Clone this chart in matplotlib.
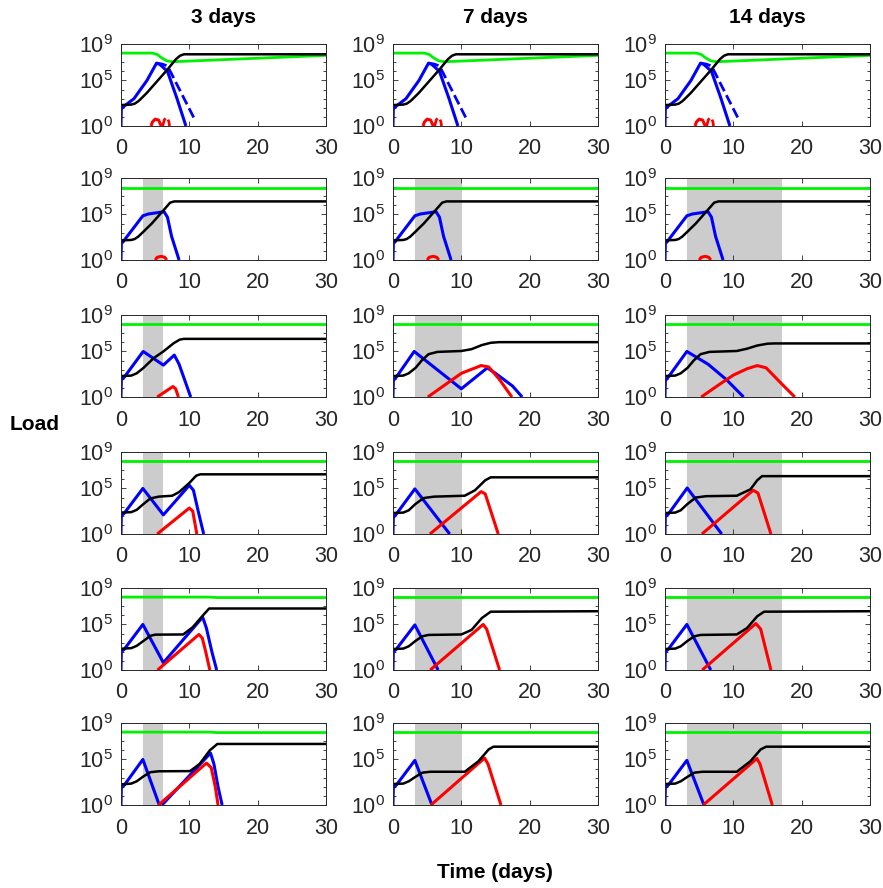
import numpy as np
import matplotlib
matplotlib.use("Agg")
import matplotlib.pyplot as plt
from matplotlib.ticker import FixedLocator, NullFormatter

plt.rcParams['font.family'] = ['Liberation Sans', 'DejaVu Sans']
plt.rcParams['mathtext.fontset'] = 'custom'
plt.rcParams['mathtext.rm'] = 'Liberation Sans'

col_titles = ['3 days', '7 days', '14 days']
treat_days = [3, 7, 14]
treat_start = 3.15

# curves are (time in days, log10 load); None breaks a line
# row 1 and row 2 are the same in every column
r1_green = [(0, 8.0), (4.6, 8.0), (5.3, 7.85), (6.0, 7.45), (6.7, 7.15), (7.5, 7.05), (30, 7.75)]
r1_black = [(0, 2.3), (1.5, 2.35), (2.0, 2.45), (2.5, 2.7), (3.0, 3.05), (3.8, 3.65), (6.8, 6.2),
            (8.0, 7.3), (8.6, 7.7), (9.2, 7.87), (30, 7.87)]
r1_blue = [(0, 0), (0.05, 1.9), (0.5, 2.2), (1.9, 3.0), (3.8, 5.0), (5.2, 6.9),
           (5.7, 6.75), (6.8, 6.0), (8.2, 3.0), (9.5, 0)]
r1_blue_dash = [(5.2, 6.9), (6.0, 6.8), (6.8, 6.6), (10.8, 0.7)]
r1_red = [(4.4, 0), (4.6, 0.45), (5.0, 0.75), (5.5, 0.65), (5.9, 0)]
r1_red_dash = [(6.1, 0), (6.35, 0.7), (6.7, 0.95), (7.0, 0.5), (7.1, 0)]

r2_green = [(0, 7.95), (30, 7.95)]
r2_black = [(0, 2.15), (1.5, 2.2), (2.0, 2.3), (2.5, 2.55), (3.0, 2.9), (4.5, 4.0), (6.5, 5.7),
            (7.2, 6.3), (7.8, 6.43), (30, 6.43)]
r2_blue = [(0, 0), (0.05, 1.8), (0.5, 2.2), (3.2, 4.85), (4.0, 5.05), (6.3, 5.3),
           (6.8, 4.7), (7.4, 2.6), (8.5, 0)]
r2_red = [(5.0, 0), (5.3, 0.3), (5.9, 0.4), (6.4, 0.3), (6.7, 0)]

flat_green = [(0, 8.0), (30, 8.0)]

row3_black = [
    [(0, 2.3), (1.5, 2.35), (2.3, 2.6), (3.3, 3.2), (4.75, 4.25), (6.2, 5.0), (7.7, 5.9),
     (8.6, 6.3), (9.2, 6.38), (30, 6.38)],
    [(0, 2.3), (1.5, 2.35), (2.3, 2.6), (3.3, 3.2), (4.2, 4.0), (5.2, 4.7), (6.5, 4.95),
     (10, 5.05), (11.5, 5.25), (13, 5.7), (14.3, 5.95), (15.5, 6.02), (30, 6.02)],
    [(0, 2.3), (1.5, 2.35), (2.3, 2.6), (3.3, 3.2), (4.2, 4.0), (5.2, 4.7), (6.5, 4.95),
     (10.5, 5.05), (12, 5.3), (13.5, 5.65), (15, 5.85), (16, 5.88), (30, 5.88)],
]
row3_blue = [
    [(0, 0), (0.05, 1.9), (0.5, 2.2), (3.25, 5.0), (6.2, 3.5), (7.8, 4.6), (8.5, 3.6), (10.2, 0)],
    [(0, 0), (0.05, 1.8), (0.5, 2.2), (3.1, 5.0), (10.0, 0.9), (13.8, 3.2), (15, 2.6),
     (17.5, 1.2), (18.9, 0)],
    [(0, 0), (0.05, 1.8), (0.5, 2.2), (3.2, 5.0), (6.3, 3.6), (9.0, 1.9), (11.5, 0)],
]
row3_red = [
    [(5.3, 0), (7.6, 1.15), (8.0, 0.9), (8.4, 0)],
    [(5.1, 0), (10, 2.6), (12.9, 3.45), (14.0, 3.3), (15.5, 2.0), (17.4, 0)],
    [(5.3, 0), (8, 1.4), (10, 2.4), (12, 3.1), (13.5, 3.45), (14.8, 3.2), (17, 1.5), (19, 0)],
]

row4_black = [
    [(0, 2.35), (1.5, 2.4), (2.3, 2.65), (3.3, 3.3), (4.3, 3.9), (5.5, 4.1), (7.5, 4.2),
     (8.5, 4.6), (10, 5.6), (11, 6.4), (11.6, 6.55), (30, 6.55)],
    [(0, 2.3), (1.5, 2.35), (2.3, 2.6), (3.3, 3.3), (4.5, 3.95), (6, 4.1), (10.5, 4.2),
     (12, 4.8), (13.5, 5.9), (14.3, 6.22), (30, 6.22)],
    [(0, 2.3), (1.5, 2.35), (2.3, 2.6), (3.3, 3.3), (4.5, 4.0), (6, 4.15), (10.5, 4.2),
     (12.5, 4.9), (13.5, 5.9), (14.2, 6.35), (30, 6.35)],
]
row4_blue = [
    [(0, 0), (0.05, 2.0), (0.5, 2.3), (3.2, 5.0), (6.2, 2.1), (10.0, 5.35), (10.6, 4.8),
     (11.3, 2.5), (12.1, 0)],
    [(0, 0), (0.05, 1.8), (0.5, 2.2), (3.2, 4.95), (8.3, 0)],
    [(0, 0), (0.05, 1.9), (0.5, 2.2), (3.25, 5.05), (8.3, 0)],
]
row4_red = [
    [(5.3, 0), (10.0, 2.85), (10.5, 2.5), (11.1, 0)],
    [(5.4, 0), (12.9, 4.65), (13.5, 4.4), (15.4, 0)],
    [(5.4, 0), (12.9, 4.8), (13.6, 4.5), (15.5, 0)],
]

row5_black = [
    [(0, 2.33), (1.5, 2.4), (2.3, 2.65), (3.3, 3.2), (4.3, 3.75), (5, 3.88), (9.1, 3.9),
     (10.5, 4.7), (12, 6.0), (12.9, 6.75), (30, 6.75)],
    [(0, 2.3), (1.5, 2.35), (2.3, 2.6), (3.3, 3.2), (4.3, 3.7), (5.2, 3.85), (10, 3.9),
     (11.5, 4.4), (13, 5.7), (14.3, 6.4), (30, 6.45)],
    [(0, 2.3), (1.5, 2.35), (2.3, 2.6), (3.3, 3.2), (4.3, 3.7), (5.2, 3.85), (10.5, 3.9),
     (12, 4.6), (13.5, 5.9), (14.5, 6.4), (30, 6.45)],
]
row5_blue = [
    [(0, 0), (0.05, 2.0), (0.5, 2.3), (3.2, 5.0), (6.2, 0.8), (11.95, 5.8), (12.5, 4.6),
     (13.3, 2.0), (14.0, 0)],
    [(0, 0), (0.05, 2.0), (0.5, 2.3), (3.2, 4.95), (6.6, 0)],
    [(0, 0), (0.05, 2.0), (0.5, 2.3), (3.2, 5.0), (6.7, 0)],
]
row5_red = [
    [(5.35, 0), (11.4, 3.9), (11.9, 3.5), (12.4, 2.0), (13.0, 0)],
    [(5.45, 0), (13.2, 5.0), (13.7, 4.5), (15.6, 0)],
    [(5.45, 0), (13.3, 5.1), (14.0, 4.5), (15.5, 0)],
]

row6_black = [
    [(0, 2.26), (1.5, 2.35), (2.3, 2.6), (3.3, 3.15), (4.3, 3.6), (5.5, 3.7), (10.1, 3.72),
     (11.5, 4.5), (13, 6.0), (14.1, 6.7), (30, 6.7)],
    [(0, 2.3), (1.5, 2.35), (2.3, 2.6), (3.3, 3.1), (4.3, 3.55), (5.5, 3.65), (10.5, 3.65),
     (12.5, 4.8), (14, 6.1), (14.7, 6.4), (30, 6.4)],
    [(0, 2.3), (1.5, 2.35), (2.3, 2.6), (3.3, 3.1), (4.3, 3.55), (5.5, 3.65), (10.5, 3.65),
     (12.5, 4.8), (14, 6.1), (14.8, 6.4), (30, 6.4)],
]
row6_blue = [
    [(0, 0), (0.05, 1.9), (0.5, 2.2), (3.2, 5.0), (5.6, 0), None, (6.0, 0), (13.1, 5.7),
     (13.6, 4.5), (14.2, 2.0), (14.8, 0)],
    [(0, 0), (0.05, 1.9), (0.5, 2.2), (3.2, 4.9), (5.7, 0)],
    [(0, 0), (0.05, 1.9), (0.5, 2.2), (3.2, 4.9), (5.7, 0)],
]
row6_red = [
    [(5.5, 0), (12.5, 4.6), (13.2, 4.1), (13.8, 2.0), (14.2, 0)],
    [(5.55, 0), (13.4, 5.15), (13.9, 4.5), (15.8, 0)],
    [(5.6, 0), (13.45, 5.1), (13.9, 4.5), (15.7, 0)],
]
row56_green_c1 = [(0, 8.0), (13, 8.0), (14, 7.95), (30, 7.95)]

greens = [[r1_green] * 3, [r2_green] * 3, [flat_green] * 3, [flat_green] * 3,
          [row56_green_c1, flat_green, flat_green], [row56_green_c1, flat_green, flat_green]]
blacks = [[r1_black] * 3, [r2_black] * 3, row3_black, row4_black, row5_black, row6_black]
blues = [[r1_blue] * 3, [r2_blue] * 3, row3_blue, row4_blue, row5_blue, row6_blue]
reds = [[r1_red] * 3, [r2_red] * 3, row3_red, row4_red, row5_red, row6_red]

GREEN = (0.0, 0.95, 0.0)
AXC = '0.15'


def draw(ax, pts, color, lw, ls='-'):
    t = np.array([np.nan if p is None else p[0] for p in pts], dtype=float)
    y = np.array([np.nan if p is None else 10.0 ** p[1] for p in pts], dtype=float)
    ax.plot(t, y, color=color, lw=lw, ls=ls, solid_joinstyle='round',
            solid_capstyle='butt')


W, H = 883, 888
fig = plt.figure(figsize=(W / 100, H / 100), dpi=100)

col_left = [121, 393, 665]
ax_w = 205
row_top = [44, 178, 315, 452, 588, 723]
ax_h = 82

for r in range(6):
    for c in range(3):
        ax = fig.add_axes([col_left[c] / W, 1 - (row_top[r] + ax_h) / H, ax_w / W, ax_h / H])
        ax.set_yscale('log')
        if r > 0:
            ax.axvspan(treat_start, treat_start + treat_days[c], color='0.8', lw=0, zorder=0)
        draw(ax, greens[r][c], GREEN, 2.0)
        draw(ax, blues[r][c], 'blue', 2.2)
        if r == 0:
            draw(ax, r1_blue_dash, 'blue', 2.0, '--')
            draw(ax, r1_red_dash, 'red', 2.0, (0, (3, 1.5)))
        draw(ax, reds[r][c], 'red', 2.2)
        draw(ax, blacks[r][c], 'black', 1.8)

        ax.set_xlim(0, 30)
        ax.set_ylim(1, 1e9)
        ax.set_xticks([0, 10, 20, 30])
        ax.yaxis.set_major_locator(FixedLocator([1, 1e5, 1e9]))
        ax.yaxis.set_minor_locator(FixedLocator([10.0 ** k for k in range(10)]))
        ax.yaxis.set_minor_formatter(NullFormatter())
        ax.tick_params(which='both', direction='in', top=True, right=True,
                       labelsize=15.5, colors=AXC, width=0.6)
        ax.tick_params(which='major', length=3.5)
        ax.tick_params(which='minor', length=2)
        ax.tick_params(axis='x', pad=9)
        ax.tick_params(axis='y', pad=6)
        for s in ax.spines.values():
            s.set_color(AXC)
            s.set_linewidth(0.7)
        if r == 0:
            ax.text(0.5, 1 + 17 / ax_h, col_titles[c], transform=ax.transAxes, ha='center',
                    va='bottom', fontsize=15, fontweight='bold')

fig.text(35 / W, 1 - 424 / H, 'Load', ha='center', va='center', fontsize=15, fontweight='bold')
fig.text(495 / W, 1 - 872 / H, 'Time (days)', ha='center', va='center', fontsize=15,
         fontweight='bold')

fig.savefig('out.png', dpi=100)
